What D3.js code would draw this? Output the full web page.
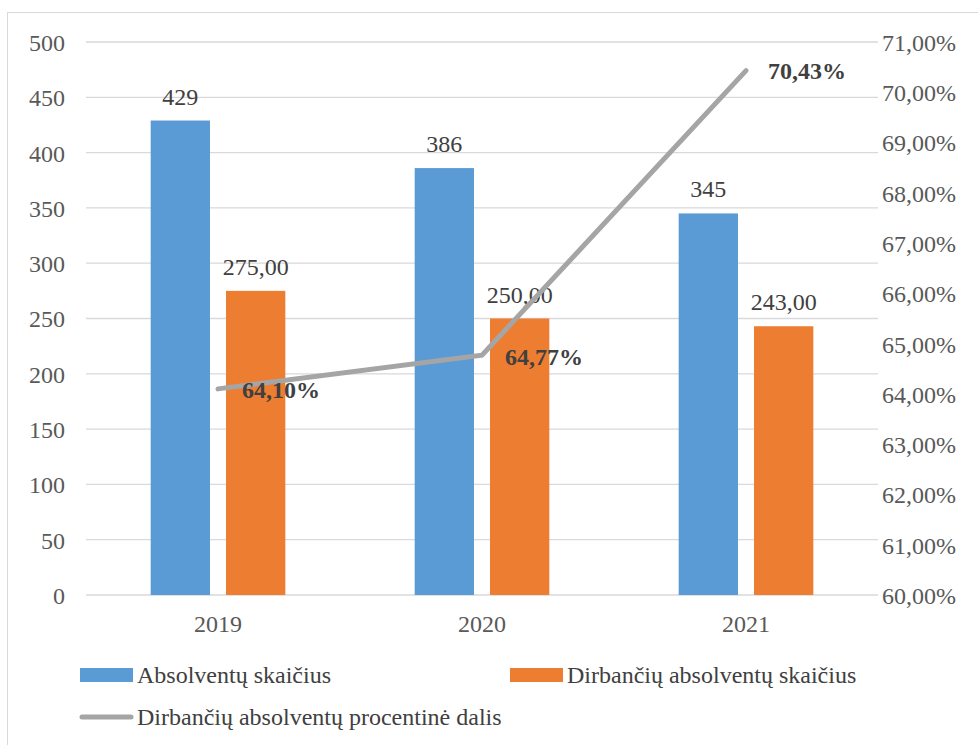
<!DOCTYPE html>
<meta charset="utf-8">
<style>
body { margin: 0; background: #fff; }
.axis path, .axis line { display: none; }
.grid line { stroke: #d9d9d9; stroke-width: 1.3px; }
</style>
<body>
<script src="https://d3js.org/d3.v7.min.js"></script>
<script>

var years = ["2019", "2020", "2021"];
var graduates = [429, 386, 345];
var employed = [275, 250, 243];
var share = [64.10, 64.77, 70.43];
var leftTicks = [0, 50, 100, 150, 200, 250, 300, 350, 400, 450, 500];
var rightTicks = [60, 61, 62, 63, 64, 65, 66, 67, 68, 69, 70, 71];
var seriesNames = ["Absolventų skaičius", "Dirbančių absolventų skaičius", "Dirbančių absolventų procentinė dalis"];
var colors = ["#5b9bd5", "#ed7d31", "#a5a5a5"];

var fmt2 = function(v) { return v.toFixed(2).replace(".", ","); };

var plotLeft = 86, plotRight = 878, plotTop = 42, plotBottom = 595;

var svg = d3.select("body").append("svg")
    .attr("width", 978)
    .attr("height", 745);

svg.append("rect")
    .attr("x", 7.5).attr("y", 12.5)
    .attr("width", 1000).attr("height", 800)
    .attr("fill", "none")
    .attr("stroke", "#d9d9d9");

var x0 = d3.scaleBand().domain(years).range([plotLeft, plotRight]).paddingInner(0.49).paddingOuter(0.245);
var x1 = d3.scaleBand().domain([0, 1]).range([0, x0.bandwidth()]).paddingInner(0.213);
var y = d3.scaleLinear().domain([0, 500]).range([plotBottom, plotTop]);
var y2 = d3.scaleLinear().domain([60, 71]).range([plotBottom, plotTop]);

svg.append("g")
    .attr("class", "grid")
    .selectAll("line")
    .data(leftTicks)
  .enter().append("line")
    .attr("x1", plotLeft).attr("x2", plotRight)
    .attr("y1", function(d) { return y(d); })
    .attr("y2", function(d) { return y(d); });

svg.append("g")
    .attr("class", "axis")
    .attr("transform", "translate(" + (plotLeft - 16) + ",0)")
    .call(d3.axisLeft(y).tickValues(leftTicks).tickSize(0).tickPadding(5))
    .selectAll("text").attr("dy", "0.35em");

svg.append("g")
    .attr("class", "axis")
    .attr("transform", "translate(" + (plotRight + 4) + ",0)")
    .call(d3.axisRight(y2).tickValues(rightTicks).tickSize(0).tickPadding(0)
      .tickFormat(function(d) { return fmt2(d) + "%"; }))
    .selectAll("text").attr("dy", "0.35em");

svg.append("g")
    .attr("class", "axis")
    .attr("transform", "translate(0," + plotBottom + ")")
    .call(d3.axisBottom(x0).tickSize(0).tickPadding(20));

var rows = years.map(function(yr, i) { return { year: yr, vals: [graduates[i], employed[i]] }; });

var groups = svg.selectAll(".grp")
    .data(rows)
  .enter().append("g")
    .attr("class", "grp")
    .attr("transform", function(d) { return "translate(" + x0(d.year) + ",0)"; });

groups.selectAll("rect")
    .data(function(d) { return d.vals; })
  .enter().append("rect")
    .attr("x", function(d, i) { return x1(i); })
    .attr("y", function(d) { return y(d); })
    .attr("width", x1.bandwidth())
    .attr("height", function(d) { return plotBottom - y(d); })
    .attr("fill", function(d, i) { return colors[i]; });

groups.selectAll(".lbl")
    .data(function(d) { return d.vals; })
  .enter().append("text")
    .attr("class", "lbl")
    .attr("x", function(d, i) { return x1(i) + x1.bandwidth() / 2; })
    .attr("y", function(d) { return y(d) - 16; })
    .attr("text-anchor", "middle")
    .text(function(d, i) { return i === 0 ? d : fmt2(d); });

var cx = function(i) { return x0(years[i]) + x0.bandwidth() / 2; };

svg.append("path")
    .datum(share)
    .attr("fill", "none")
    .attr("stroke", colors[2])
    .attr("stroke-width", 5)
    .attr("stroke-linecap", "round")
    .attr("d", d3.line()
      .x(function(d, i) { return cx(i); })
      .y(function(d) { return y2(d); }));

var pctOffsets = [[24, 1], [23, 1], [22, 0]];
svg.selectAll(".pct")
    .data(share)
  .enter().append("text")
    .attr("class", "pct")
    .attr("x", function(d, i) { return cx(i) + pctOffsets[i][0]; })
    .attr("y", function(d, i) { return y2(d) + pctOffsets[i][1]; })
    .attr("dy", "0.35em")
    .text(function(d) { return fmt2(d) + "%"; });

var legend = svg.append("g").attr("class", "legend");
var legendPos = [[80, 675], [510, 675], [80, 717]];
seriesNames.forEach(function(name, i) {
  var p = legendPos[i];
  if (i < 2) {
    legend.append("rect")
        .attr("x", p[0]).attr("y", p[1] - 7)
        .attr("width", 53).attr("height", 14)
        .attr("fill", colors[i]);
  } else {
    legend.append("line")
        .attr("x1", p[0] + 2).attr("x2", p[0] + 51)
        .attr("y1", p[1]).attr("y2", p[1])
        .attr("stroke", colors[i])
        .attr("stroke-width", 5)
        .attr("stroke-linecap", "round");
  }
  legend.append("text")
      .attr("x", p[0] + 57).attr("y", p[1])
      .attr("dy", "0.35em")
      .text(name);
});

// serif everywhere, like the original
svg.selectAll("text")
    .style("font-family", "'Liberation Serif'")
    .style("font-size", "24px")
    .style("fill", "#404040");
svg.selectAll(".axis text").style("fill", "#595959");
svg.selectAll(".pct").style("font-weight", "bold");

</script>
